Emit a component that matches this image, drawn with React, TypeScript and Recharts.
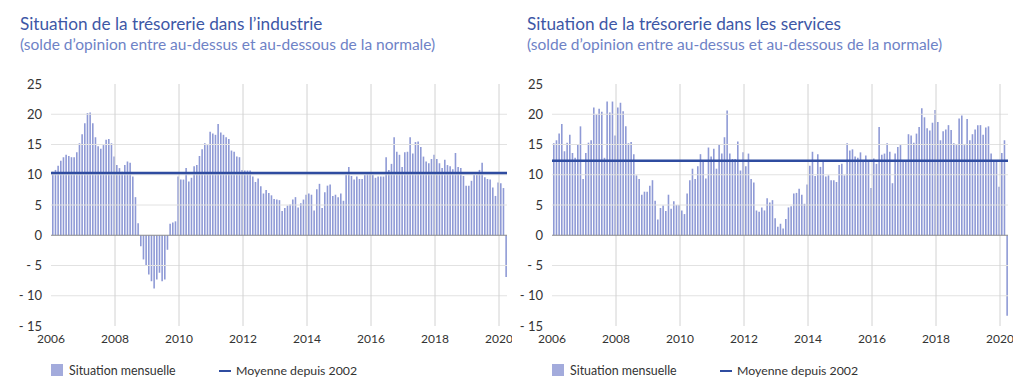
import React from 'react'
import { BarChart, Bar, XAxis, YAxis, ReferenceLine } from 'recharts'

const START_YEAR = 2006
const YEAR_TICKS = [2006, 2008, 2010, 2012, 2014, 2016, 2018, 2020]
const Y_TICKS = [-15, -10, -5, 0, 5, 10, 15, 20, 25]
const GRID_Y = [-10, -5, 5, 10, 15, 20]
const GRID_X = [2008, 2010, 2012, 2014, 2016, 2018, 2020]

// solde d'opinion mensuel, janv. 2006 -> mars 2020
const industrie = [
  10.5, 10.8, 11.5, 12.3, 12.9, 13.3, 13.1, 12.9, 12.9, 13.7, 15.2, 16.7,
  18.5, 20.2, 20.3, 18.5, 16.2, 14.7, 14.3, 14.9, 15.8, 15.9, 15.2, 13.0,
  11.6, 11.1, 10.5, 11.6, 12.2, 12.0, 9.7, 6.3, 2.0, -1.8, -4.0, -5.1,
  -6.5, -7.6, -8.8, -7.3, -6.2, -7.6, -7.3, -2.4, 1.9, 2.1, 2.3, 9.7,
  9.2, 9.2, 11.1, 8.9, 9.5, 11.4, 11.6, 13.1, 14.2, 15.2, 14.9, 17.1,
  16.8, 16.6, 18.4, 17.0, 16.6, 16.2, 15.9, 14.0, 13.8, 13.0, 12.9, 10.8,
  10.7, 10.7, 10.7, 9.7, 8.8, 9.4, 8.1, 6.9, 7.5, 7.0, 6.6, 6.0,
  5.9, 5.8, 4.0, 4.5, 4.9, 5.1, 5.9, 6.3, 4.6, 5.3, 5.9, 6.7,
  6.9, 6.7, 4.1, 7.6, 8.5, 4.5, 7.1, 8.2, 8.4, 6.5, 6.7, 6.3,
  6.9, 5.7, 10.0, 11.3, 9.8, 9.2, 9.7, 9.3, 9.3, 10.0, 10.2, 10.2,
  10.0, 9.5, 9.7, 9.7, 9.7, 12.9, 10.8, 11.8, 16.2, 13.8, 13.3, 11.3,
  13.7, 13.8, 16.2, 13.5, 15.4, 15.5, 14.6, 13.0, 12.2, 11.9, 12.6, 13.3,
  12.6, 11.9, 11.1, 12.5, 11.6, 11.4, 10.9, 13.6, 11.3, 11.1, 9.8, 8.2,
  8.2, 9.0, 10.0, 10.0, 10.8, 12.0, 9.6, 9.3, 9.2, 7.9, 6.5, 8.7,
  8.6, 7.8, -6.9,
]

const services = [
  15.2, 15.7, 16.8, 18.4, 13.9, 15.3, 16.6, 13.6, 12.8, 15.0, 18.0, 9.3,
  13.6, 15.3, 15.7, 21.1, 20.0, 20.9, 20.4, 12.8, 22.1, 20.3, 22.1, 16.5,
  21.1, 21.9, 20.5, 18.0, 15.2, 15.4, 13.4, 9.9, 9.3, 6.7, 7.2, 7.2,
  8.2, 9.1, 5.7, 2.6, 4.5, 4.9, 4.0, 6.7, 4.4, 5.6, 5.0, 5.0,
  4.1, 3.5, 6.9, 9.1, 11.0, 9.3, 11.4, 13.4, 12.1, 9.4, 14.5, 13.0,
  14.3, 11.0, 15.1, 13.5, 16.2, 20.6, 13.5, 12.6, 12.6, 15.5, 10.7, 13.7,
  11.4, 13.5, 9.3, 8.7, 4.1, 3.9, 4.6, 4.1, 6.1, 5.4, 5.8, 2.8,
  1.4, 1.9, 1.1, 2.7, 4.6, 4.8, 6.9, 7.0, 7.7, 6.7, 5.2, 8.4,
  11.5, 13.8, 9.8, 13.4, 11.3, 12.1, 9.7, 9.9, 9.1, 9.1, 8.8, 11.6,
  11.8, 9.9, 15.2, 14.0, 14.2, 13.0, 12.8, 13.7, 12.4, 13.2, 12.3, 7.8,
  12.7, 11.8, 17.9, 13.3, 13.5, 15.2, 13.8, 8.6, 13.5, 14.6, 14.9, 12.3,
  12.3, 16.7, 16.5, 15.3, 16.8, 17.9, 21.0, 19.5, 17.7, 17.3, 18.6, 20.7,
  18.7, 15.7, 17.2, 17.5, 18.2, 17.4, 15.2, 14.9, 19.3, 19.8, 14.9, 19.2,
  15.7, 16.7, 17.5, 18.2, 18.2, 16.6, 17.8, 18.0, 13.5, 12.3, 12.3, 8.0,
  13.6, 15.7, -13.3,
]

const MOYENNE_INDUSTRIE = 10.3
const MOYENNE_SERVICES = 12.3

const SOUS_TITRE = '(solde d\u2019opinion entre au-dessus et au-dessous de la normale)'

const FONT = 'Lato, "Noto Sans", sans-serif'
const BAR_COLOR = '#8f9ad6'
const LINE_COLOR = '#2f4ca0'

const toRows = (values: number[]) =>
  values.map((v, i) => ({
    x: START_YEAR + (i + 0.5) / 12,
    mois: `${START_YEAR + Math.floor(i / 12)}-${(i % 12) + 1}`,
    valeur: v,
  }))

const fmtY = (v: number) => (v < 0 ? `- ${Math.abs(v)}` : String(v))

const Panel = ({ left, titleX, title, values, moyenne }: any) => {
  const data = toRows(values)
  const end = START_YEAR + values.length / 12
  return (
    <div style={{ position: 'absolute', left, top: 0, width: 512, height: 391 }}>
      <div style={{ position: 'absolute', left: titleX, top: 15.4, fontSize: 17.2, color: '#3d57a6', whiteSpace: 'nowrap', lineHeight: '18px' }}>
        {title}
      </div>
      <div style={{ position: 'absolute', left: titleX, top: 36.3, fontSize: 15.5, color: '#6e82c6', whiteSpace: 'nowrap', lineHeight: '16px' }}>
        {SOUS_TITRE}
      </div>
      <div style={{ position: 'absolute', left: 0, top: 0 }}>
        <BarChart width={512} height={391} data={data} margin={{ top: 84, right: 5, bottom: 45, left: 0 }}>
          {GRID_Y.map((y) => (
            <ReferenceLine key={'y' + y} y={y} stroke="#e2e2e2" strokeWidth={1} />
          ))}
          {GRID_X.map((x) => (
            <ReferenceLine key={'x' + x} x={x} stroke="#d2d2d2" strokeWidth={1} />
          ))}
          <XAxis
            type="number"
            dataKey="x"
            domain={[START_YEAR, end]}
            ticks={YEAR_TICKS}
            tickFormatter={(t: number) => String(t)}
            axisLine={false}
            tickLine={false}
            tickSize={0}
            tickMargin={8}
            height={20}
            tick={{ fill: '#333', fontSize: 12, fontFamily: FONT }}
            allowDataOverflow
          />
          <YAxis
            domain={[-15, 25]}
            ticks={Y_TICKS}
            tickFormatter={fmtY}
            axisLine={false}
            tickLine={false}
            tickSize={0}
            tickMargin={9}
            width={51}
            tick={{ fill: '#333', fontSize: 13, fontFamily: FONT }}
          />
          <Bar dataKey="valeur" fill={BAR_COLOR} barSize={1.6} isAnimationActive={false} />
          <ReferenceLine y={0} stroke="#8c8c8c" strokeWidth={1} />
          <ReferenceLine y={moyenne} stroke={LINE_COLOR} strokeWidth={2.5} />
        </BarChart>
      </div>
      <div style={{ position: 'absolute', left: 51, top: 364, width: 12, height: 12, background: '#a3abdc' }} />
      <div style={{ position: 'absolute', left: 69, top: 362, fontSize: 12.4, color: '#333', lineHeight: '18px', whiteSpace: 'nowrap' }}>
        Situation mensuelle
      </div>
      <div style={{ position: 'absolute', left: 219, top: 370, width: 12, height: 2, background: LINE_COLOR }} />
      <div style={{ position: 'absolute', left: 236, top: 362, fontSize: 12.3, color: '#333', lineHeight: '18px', whiteSpace: 'nowrap' }}>
        Moyenne depuis 2002
      </div>
    </div>
  )
}

const App = () => {
  return (
    <div style={{ position: 'absolute', left: 0, top: 0, width: 1024, height: 391, background: '#fff', fontFamily: FONT, overflow: 'hidden' }}>
      <Panel left={0} titleX={20} title={'Situation de la tr\u00e9sorerie dans l\u2019industrie'} values={industrie} moyenne={MOYENNE_INDUSTRIE} />
      <Panel left={501} titleX={26} title={'Situation de la tr\u00e9sorerie dans les services'} values={services} moyenne={MOYENNE_SERVICES} />
    </div>
  )
}

export default App
